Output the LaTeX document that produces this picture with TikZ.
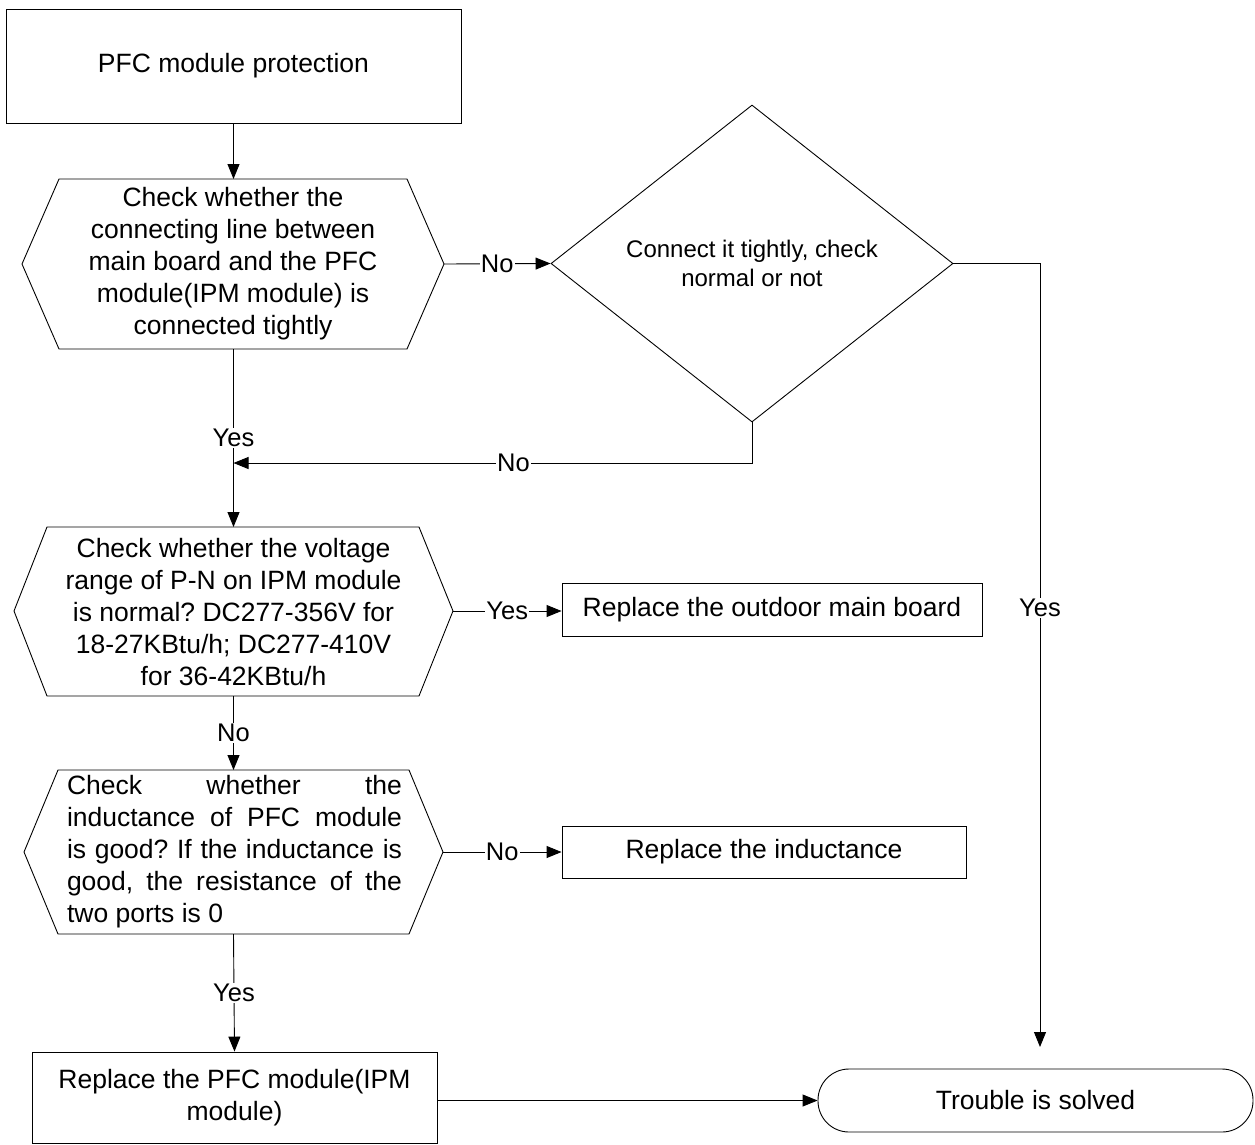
\documentclass[tikz,border=0pt]{standalone}
\usepackage{fontspec}
\setmainfont{Liberation Sans}
\usetikzlibrary{arrows.meta,shapes.geometric}
\hbadness=10000
\frenchspacing
\begin{document}
\frenchspacing
\begin{tikzpicture}[x=1pt,y=-1pt,
  ln/.style={line width=0.9pt, draw=black},
  arr/.style={ln, -{Triangle[length=15pt,width=12pt]}},
  txt/.style={font=\fontsize{26.5}{32}\selectfont, align=center, inner sep=0pt},
  lbl/.style={font=\fontsize{25.5}{30}\selectfont, fill=white, inner sep=1pt},
  boxnode/.style={ln, rectangle, font=\fontsize{26.5}{32}\selectfont, align=center, inner sep=0pt},
  hexline/.style={ln}
]
\useasboundingbox (0,0) rectangle (1255,1144);

% top box
\node[boxnode, minimum width=455pt, minimum height=114pt] (top) at (233.5,66) {PFC module protection};

% hexagon 1
\coordinate (h1l) at (22,264);
\coordinate (h1r) at (444,264);
\coordinate (h1t) at (233.5,179);
\coordinate (h1b) at (233.5,349);
\draw[hexline] (h1l) -- (59,179) -- (407,179) -- (h1r) -- (407,349) -- (59,349) -- cycle;
\node[txt] (h1) at (233,264) {Check whether the\\connecting line between\\main board and the PFC\\module(IPM module) is\\connected tightly};

% diamond
\node[ln, diamond, minimum width=402pt, minimum height=317pt, inner sep=0pt,
      font=\fontsize{24}{29}\selectfont, align=center] (dia) at (752,263.5) {Connect it tightly, check\\normal or not};

% hexagon 2
\coordinate (h2l) at (14,611);
\coordinate (h2r) at (453,611);
\coordinate (h2t) at (233.5,527);
\coordinate (h2b) at (233.5,696);
\draw[hexline] (h2l) -- (47,527) -- (419,527) -- (h2r) -- (419,696) -- (47,696) -- cycle;
\node[txt] (h2) at (233.5,612) {Check whether the voltage\\range of P-N on IPM module\\is normal? DC277-356V for\\18-27KBtu/h; DC277-410V\\for 36-42KBtu/h};

% hexagon 3
\coordinate (h3l) at (24,852);
\coordinate (h3r) at (443,852);
\coordinate (h3t) at (233.5,770);
\coordinate (h3b) at (233.5,934);
\draw[hexline] (h3l) -- (58,770) -- (409,770) -- (h3r) -- (409,934) -- (58,934) -- cycle;
\node[inner sep=0pt] (h3) at (234.5,852) {\parbox{335pt}{\fontsize{26.5}{32}\selectfont\frenchspacing\tolerance=10000\hyphenpenalty=10000
Check whether the\linebreak inductance of PFC module\linebreak is good? If the inductance is\linebreak good, the resistance of the\linebreak two ports is 0}};

% right boxes
\node[boxnode, minimum width=420pt, minimum height=53pt] (rmain) at (772,609.5) {Replace the outdoor main board};
\node[boxnode, minimum width=404pt, minimum height=52pt] (rind) at (764,852) {Replace the inductance};

% bottom box
\node[boxnode, minimum width=405pt, minimum height=91pt] (rpfc) at (234.5,1097.5) {Replace the PFC module(IPM\\module)};

% terminal
\node[ln, rectangle, rounded corners=31pt, minimum width=435pt, minimum height=63pt,
      font=\fontsize{26.5}{32}\selectfont, inner sep=0pt] (term) at (1035.5,1100.5) {Trouble is solved};

% join coordinates
\coordinate (join) at (233.5,463);
\coordinate (rend) at (1040,1047);

% connectors
\draw[arr] (top.south) -- (h1t);
\draw[arr] (h1r) -- node[lbl] {No} (dia.west);
\draw[arr] (h1b) -- node[lbl] {Yes} (h2t);
\draw[arr] (dia.south) |- node[lbl, pos=0.73] {No} (join);
\draw[arr] (dia.east) -| node[lbl, pos=0.72] {Yes} (rend);
\draw[arr] (h2r) -- node[lbl] {Yes} (rmain.west |- h2r);
\draw[arr] (h2b) -- node[lbl] {No} (h3t);
\draw[arr] (h3r) -- node[lbl] {No} (rind.west);
\draw[arr] (h3b) -- node[lbl] {Yes} (rpfc.north);
\draw[arr] (term.west -| rpfc.east) -- (term.west);
\end{tikzpicture}
\end{document}
